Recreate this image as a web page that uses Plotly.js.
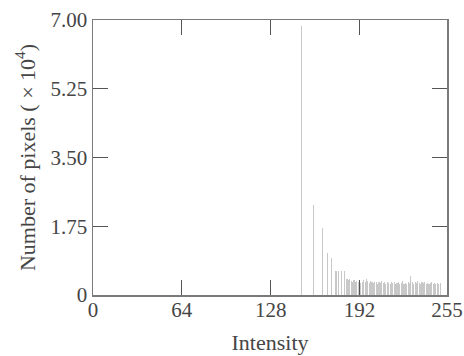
<!DOCTYPE html>
<html>
<head>
<meta charset="utf-8">
<script src="https://cdn.plot.ly/plotly-3.0.1.min.js"></script>
<style>html,body{margin:0;padding:0;background:#fff;}#chart{width:464px;height:356px;}</style>
</head>
<body>
<div id="chart"></div>
<script>
// Intensity levels that have pixels
const intensity = [150,159,165,169,172,175,177,179,181,
  183,184,185,186,187,188,189,190,191,192,193,194,195,196,197,198,199,200,
  201,202,203,204,205,206,207,208,209,210,211,212,213,214,215,216,217,218,219,220,
  221,222,223,224,225,226,227,228,229,230,231,232,233,234,235,236,237,238,239,240,
  241,242,243,244,245,246,247,248,249,250];
// Number of pixels (x 10^4)
const pixelCounts = [6.85,2.29,1.70,1.08,0.93,0.61,0.61,0.61,0.61,
  0.40,0.38,0.41,0.36,0.34,0.37,0.33,0.35,0.32,0.36,0.31,0.34,0.38,0.33,0.42,0.35,0.31,0.36,
  0.33,0.30,0.34,0.32,0.29,0.33,0.31,0.35,0.30,0.32,0.29,0.33,0.31,0.28,0.34,0.30,0.32,0.29,0.31,0.33,
  0.28,0.30,0.35,0.29,0.31,0.28,0.33,0.30,0.48,0.32,0.29,0.34,0.30,0.36,0.31,0.28,0.33,0.30,0.32,0.29,
  0.31,0.28,0.30,0.32,0.29,0.31,0.28,0.30,0.29,0.31];
const xTickVals = [0,64,128,192,255];
const xTickText = ['0','64','128','192','255'];
const yTickVals = [0,1.75,3.5,5.25,7];
const yTickText = ['0','1.75','3.50','5.25','7.00'];

const font = {family: '"Liberation Serif", "DejaVu Serif", serif', size: 21, color: '#454545'};
const titleFont = {family: '"Liberation Serif", "DejaVu Serif", serif', size: 22, color: '#454545'};
const axisCommon = {
  showgrid: false, zeroline: false, showline: true, linecolor: '#7a7a7a', linewidth: 1.5,
  mirror: 'ticks', ticks: 'inside', ticklen: 15, tickcolor: '#555', tickwidth: 1.2,
  tickfont: font, tickmode: 'array'
};
Plotly.newPlot('chart', [{
  type: 'bar', x: intensity, y: pixelCounts, width: 0.8,
  marker: {color: '#c8c8c8', line: {width: 0}}
}], {
  width: 464, height: 356,
  margin: {l: 93, r: 17, t: 20, b: 61},
  paper_bgcolor: '#fff', plot_bgcolor: '#fff',
  showlegend: false, bargap: 0,
  font: font,
  xaxis: Object.assign({}, axisCommon, {
    range: [0, 255], tickvals: xTickVals, ticktext: xTickText,
    ticklabelstandoff: -5,
    title: {text: 'Intensity', font: titleFont, standoff: 14}
  }),
  yaxis: Object.assign({}, axisCommon, {
    range: [0, 7], tickvals: yTickVals, ticktext: yTickText,
    title: {text: 'Number of pixels ( × 10<sup>4</sup>)', font: titleFont, standoff: 9}
  })
}, {staticPlot: true, displayModeBar: false});
</script>
</body>
</html>
